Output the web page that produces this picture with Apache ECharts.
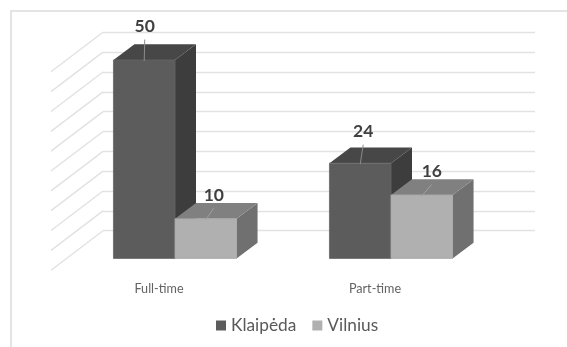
<!DOCTYPE html>
<html>
<head>
<meta charset="utf-8">
<style>html,body{margin:0;padding:0;background:#fff}#chart{width:567px;height:347px}</style>
<script src="https://cdn.jsdelivr.net/npm/echarts@6/dist/echarts.min.js"></script>
</head>
<body>
<div id="chart"></div>
<script>
// Enrolment by study form, one pseudo-3D column per city.
const categories = ['Full-time', 'Part-time'];
const klaipeda = [50, 24];
const vilnius = [10, 16];
const yTicks = [0, 5, 10, 15, 20, 25, 30, 35, 40, 45, 50];

// Projection of the box depth and of the wall depth, in pixels.
const BOX_DX = 21, BOX_DY = -15.7;
const WALL_DX = 52, WALL_DY = -39.5;
const BAR_RATIO = 0.285;
const FONT = 'Lato, "Open Sans", sans-serif';
const WALL_HEIGHT = 198.4;

// Nudges of the value labels away from the column's centre line.
const labelShift = {
  Klaipeda: [[0.5, -33.5], [3, -31.5]],
  Vilnius: [[8, -23.5], [10, -23.5]]
};

function boxSeries(name, values, slot, colors, shifts) {
  return {
    name: name,
    type: 'custom',
    xAxisIndex: 1,
    yAxisIndex: 1,
    itemStyle: { color: colors.front },
    data: values.map((v, i) => [i, v]),
    z: 3 + slot,
    renderItem: function (params, api) {
      const idx = api.value(0), val = api.value(1);
      const top = api.coord([idx, val]);
      const base = api.coord([idx, 0]);
      const w = api.size([1, 0])[0] * BAR_RATIO;
      const x0 = top[0] + slot * w, x1 = x0 + w;
      const yT = top[1], yB = base[1];
      const cx = (x0 + x1) / 2;
      const s = shifts[idx];
      return {
        type: 'group',
        children: [
          { type: 'polygon', shape: { points: [[x1, yT], [x1 + BOX_DX, yT + BOX_DY], [x1 + BOX_DX, yB + BOX_DY], [x1, yB]] },
            style: { fill: colors.side } },
          { type: 'polygon', shape: { points: [[x0, yT], [x0 + BOX_DX, yT + BOX_DY], [x1 + BOX_DX, yT + BOX_DY], [x1, yT]] },
            style: { fill: colors.top } },
          { type: 'rect', shape: { x: x0, y: yT, width: w, height: yB - yT },
            style: { fill: colors.front, stroke: colors.edge, lineWidth: 0.8 } },
          { type: 'line', shape: { x1: cx, y1: yT + 1, x2: cx + s[0], y2: yT + s[1] + 13 },
            style: { stroke: colors.leader, lineWidth: 1 } },
          { type: 'text', x: cx + s[0], y: yT + s[1],
            style: { text: String(val), fill: '#404040', font: 'bold 17.5px ' + FONT, align: 'center', verticalAlign: 'middle' } }
        ]
      };
    }
  };
}

const chart = echarts.init(document.getElementById('chart'), null, { renderer: 'canvas' });
chart.setOption({
  animation: false,
  backgroundColor: '#ffffff',
  textStyle: { fontFamily: FONT },
  graphic: [{
    type: 'polyline',
    shape: { points: [[567, 11], [11, 11], [11, 347]] },
    style: { stroke: '#dcdcdc', lineWidth: 1.5, fill: null },
    silent: true
  }],
  legend: {
    data: ['Klaipėda', 'Vilnius'],
    left: 216,
    top: 317,
    icon: 'rect',
    itemWidth: 10,
    itemHeight: 10,
    itemGap: 16,
    textStyle: { color: '#595959', fontSize: 17.3, fontFamily: FONT },
    padding: 0
  },
  grid: [
    { left: 103, width: 432, top: 32.3, height: WALL_HEIGHT },   // back wall
    { left: 67, width: 432, top: 60, height: WALL_HEIGHT },      // plane of the columns
    { left: 51, width: 432, top: 71.8, height: WALL_HEIGHT }     // front edge of the floor
  ],
  xAxis: [
    { gridIndex: 0, type: 'value', min: 0, max: 1, show: false },
    { gridIndex: 1, type: 'category', data: categories, show: false },
    { gridIndex: 2, type: 'category', data: categories,
      axisLine: { show: false }, axisTick: { show: false },
      axisLabel: { color: '#636363', fontSize: 12.6, margin: 12, fontFamily: FONT } }
  ],
  yAxis: [
    { gridIndex: 0, type: 'value', min: 0, max: 50, interval: 5,
      axisLine: { show: false }, axisTick: { show: false }, axisLabel: { show: false },
      splitLine: { show: true, lineStyle: { color: '#e2e2e2', width: 1.4 } } },
    { gridIndex: 1, type: 'value', min: 0, max: 50, interval: 5, show: false, splitLine: { show: false } },
    { gridIndex: 2, type: 'value', min: 0, max: 50, interval: 5, show: false, splitLine: { show: false } }
  ],
  series: [
    {
      // Slanted gridlines on the left wall, one per tick.
      type: 'custom',
      xAxisIndex: 0,
      yAxisIndex: 0,
      silent: true,
      z: 1,
      data: yTicks.map(t => [0, t]),
      renderItem: function (params, api) {
        const p = api.coord([api.value(0), api.value(1)]);
        return {
          type: 'line',
          shape: { x1: p[0], y1: p[1], x2: p[0] - WALL_DX, y2: p[1] - WALL_DY },
          style: { stroke: '#e2e2e2', lineWidth: 1.4 }
        };
      }
    },
    {
      // Carries the category labels on the floor's front edge.
      type: 'custom',
      xAxisIndex: 2,
      yAxisIndex: 2,
      silent: true,
      data: [],
      renderItem: function () { return null; }
    },
    boxSeries('Klaipėda', klaipeda, -1,
      { front: '#5c5c5c', top: '#474747', side: '#3d3d3d', edge: '#666666', leader: '#8c8c8c' }, labelShift.Klaipeda),
    boxSeries('Vilnius', vilnius, 0,
      { front: '#b0b0b0', top: '#808080', side: '#707070', edge: '#a8a8a8', leader: '#a0a0a0' }, labelShift.Vilnius)
  ]
});
</script>
</body>
</html>
